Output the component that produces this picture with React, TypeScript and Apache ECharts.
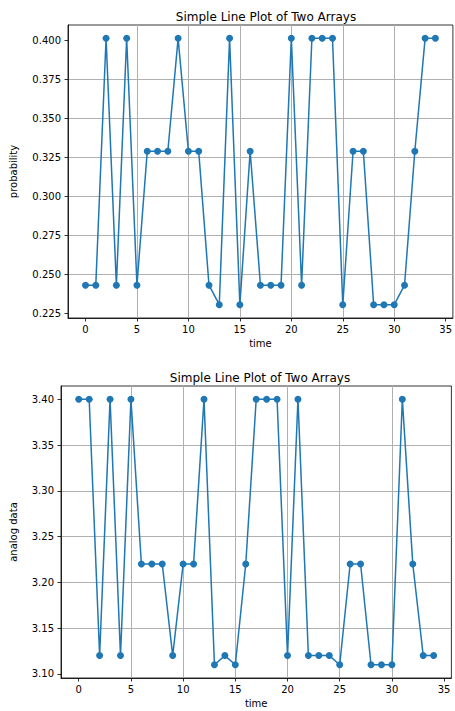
import React, { useEffect, useRef } from "react";
import * as echarts from "echarts";

const time = [0, 1, 2, 3, 4, 5, 6, 7, 8, 9, 10, 11, 12, 13, 14, 15, 16, 17, 18, 19, 20, 21, 22, 23, 24, 25, 26, 27, 28, 29, 30, 31, 32, 33, 34];
const probability = [
  0.243, 0.243, 0.4015, 0.243, 0.4015, 0.243, 0.329, 0.329, 0.329, 0.4015,
  0.329, 0.329, 0.243, 0.2305, 0.4015, 0.2305, 0.329, 0.243, 0.243, 0.243,
  0.4015, 0.243, 0.4015, 0.4015, 0.4015, 0.2305, 0.329, 0.329, 0.2305, 0.2305,
  0.2305, 0.243, 0.329, 0.4015, 0.4015,
];
const analog = [
  3.4, 3.4, 3.12, 3.4, 3.12, 3.4, 3.22, 3.22, 3.22, 3.12,
  3.22, 3.22, 3.4, 3.11, 3.12, 3.11, 3.22, 3.4, 3.4, 3.4,
  3.12, 3.4, 3.12, 3.12, 3.12, 3.11, 3.22, 3.22, 3.11, 3.11,
  3.11, 3.4, 3.22, 3.12, 3.12,
];
const xTicks = [0, 5, 10, 15, 20, 25, 30, 35];
const probTicks = [0.225, 0.25, 0.275, 0.3, 0.325, 0.35, 0.375, 0.4];
const analogTicks = [3.1, 3.15, 3.2, 3.25, 3.3, 3.35, 3.4];

const TITLE = "Simple Line Plot of Two Arrays";
const BLUE = "#1f77b4";
const FONT = "DejaVu Sans";
const GRID_LINE = { color: "#b0b0b0", width: 1 };

const pad = (e: { min: number; max: number }, side: number) =>
  side < 0 ? e.min - 0.05 * (e.max - e.min) : e.max + 0.05 * (e.max - e.min);

function xAxisCfg(gridIndex: number) {
  return {
    type: "value",
    gridIndex,
    min: (e: any) => pad(e, -1),
    max: (e: any) => pad(e, 1),
    minInterval: 5,
    maxInterval: 5,
    name: "time",
    nameLocation: "middle",
    nameGap: 20,
    nameTextStyle: { fontFamily: FONT, fontSize: 10, color: "#000" },
    axisLine: { show: true, onZero: false, lineStyle: { color: "#000", width: 0.8 } },
    axisTick: { show: true, length: 3.5, customValues: xTicks, lineStyle: { color: "#000", width: 0.8 } },
    axisLabel: {
      customValues: xTicks,
      interval: 0,
      margin: 6,
      fontFamily: FONT,
      fontSize: 10,
      color: "#000",
      formatter: (v: number) => String(v),
    },
    splitLine: { show: true, interval: 0, showMinLine: false, showMaxLine: false, lineStyle: GRID_LINE },
  };
}

function yAxisCfg(gridIndex: number, name: string, interval: number, ticks: number[], digits: number, gap: number) {
  return {
    type: "value",
    gridIndex,
    min: (e: any) => pad(e, -1),
    max: (e: any) => pad(e, 1),
    minInterval: interval,
    maxInterval: interval,
    name,
    nameLocation: "middle",
    nameGap: gap,
    nameTextStyle: { fontFamily: FONT, fontSize: 10, color: "#000" },
    axisLine: { show: true, onZero: false, lineStyle: { color: "#000", width: 0.8 } },
    axisTick: { show: true, length: 3.5, customValues: ticks, lineStyle: { color: "#000", width: 0.8 } },
    axisLabel: {
      customValues: ticks,
      interval: 0,
      margin: 7,
      fontFamily: FONT,
      fontSize: 10,
      color: "#000",
      formatter: (v: number) => v.toFixed(digits),
    },
    splitLine: { show: true, interval: 0, showMinLine: false, showMaxLine: false, lineStyle: GRID_LINE },
  };
}

export default function App() {
  const ref = useRef<HTMLDivElement>(null);
  useEffect(() => {
    if (!ref.current) return;
    const chart = echarts.init(ref.current, null, { renderer: "svg" });
    chart.setOption({
      animation: false,
      backgroundColor: "#fff",
      title: [
        {
          text: TITLE,
          left: 261,
          top: 6,
          textAlign: "center",
          textStyle: { fontFamily: FONT, fontSize: 12, fontWeight: "normal", color: "#000" },
        },
        {
          text: TITLE,
          left: 255,
          top: 367,
          textAlign: "center",
          textStyle: { fontFamily: FONT, fontSize: 12, fontWeight: "normal", color: "#000" },
        },
      ],
      grid: [
        { left: 65, top: 25, width: 392.5, height: 293, show: true, borderColor: "#000", borderWidth: 0.8, backgroundColor: "transparent" },
        { left: 58.4, top: 386, width: 393, height: 292, show: true, borderColor: "#000", borderWidth: 0.8, backgroundColor: "transparent" },
      ],
      xAxis: [xAxisCfg(0), xAxisCfg(1)],
      yAxis: [
        yAxisCfg(0, "probability", 0.025, probTicks, 3, 50),
        yAxisCfg(1, "analog data", 0.05, analogTicks, 2, 43),
      ],
      series: [
        {
          type: "line",
          xAxisIndex: 0,
          yAxisIndex: 0,
          data: time.map((t, i) => [t, probability[i]]),
          symbol: "circle",
          symbolSize: 7,
          showAllSymbol: true,
          lineStyle: { color: BLUE, width: 1.5 },
          itemStyle: { color: BLUE, borderWidth: 0 },
          clip: false,
        },
        {
          type: "line",
          xAxisIndex: 1,
          yAxisIndex: 1,
          data: time.map((t, i) => [t, analog[i]]),
          symbol: "circle",
          symbolSize: 7,
          showAllSymbol: true,
          lineStyle: { color: BLUE, width: 1.5 },
          itemStyle: { color: BLUE, borderWidth: 0 },
          clip: false,
        },
      ],
    });
    return () => chart.dispose();
  }, []);
  return (
    <div
      ref={ref}
      style={{ position: "fixed", left: 0, top: 0, width: 455, height: 711, background: "#fff" }}
    />
  );
}
